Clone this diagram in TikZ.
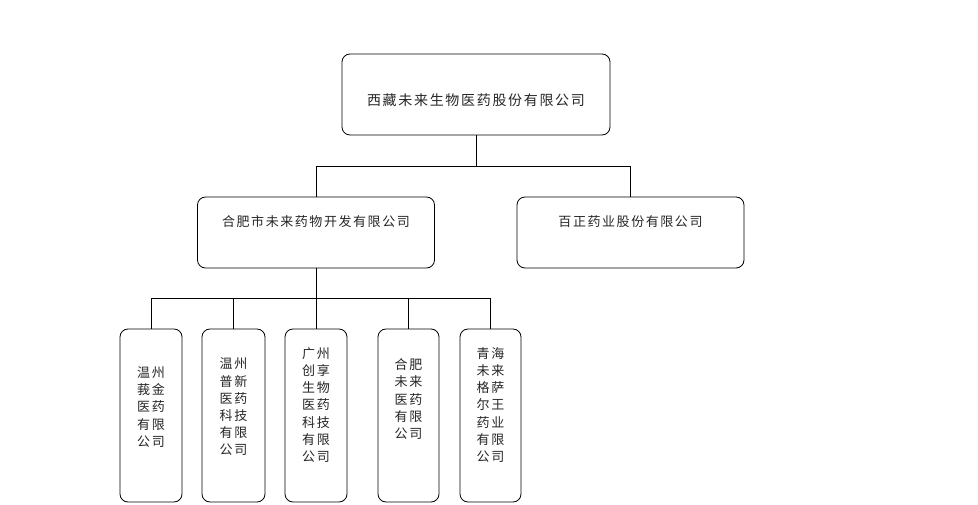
\documentclass[tikz,border=0pt]{standalone}
\usepackage{fontspec}
\setmainfont{Noto Sans CJK SC}
\newfontfamily\cjk[LetterSpace=12]{Noto Sans CJK SC}
\newfontfamily\cjkv[LetterSpace=14]{Noto Sans CJK SC}
\begin{document}
\begin{tikzpicture}[x=1pt,y=-1pt,
  box/.style={draw=black,line width=0.8pt,rounded corners=8pt,inner sep=0pt,fill=white},
  lbl/.style={inner sep=0pt,text=black!85},
  toptext/.style={lbl,font=\cjk\fontsize{14}{16}\selectfont},
  midtext/.style={lbl,font=\cjk\fontsize{13}{15}\selectfont},
  vtext/.style={lbl,align=center,font=\cjkv\fontsize{13}{17.2}\selectfont},
  conn/.style={draw=black,line width=0.8pt}]
\useasboundingbox (0,0) rectangle (978,505);
% boxes
\node[box,minimum width=268pt,minimum height=81pt] (top) at (476,94.5) {};
\node[box,minimum width=237pt,minimum height=71pt] (m1) at (316,232.5) {};
\node[box,minimum width=227pt,minimum height=71pt] (m2) at (630.5,232.5) {};
\node[box,minimum width=62pt,minimum height=173pt] (b1) at (151,415.5) {};
\node[box,minimum width=63pt,minimum height=173pt] (b2) at (233.5,415.5) {};
\node[box,minimum width=62pt,minimum height=173pt] (b3) at (316,415.5) {};
\node[box,minimum width=61pt,minimum height=173pt] (b4) at (408.5,415.5) {};
\node[box,minimum width=61pt,minimum height=173pt] (b5) at (490.5,415.5) {};
% texts
\node[toptext] (ttop) at (476,100) {西藏未来生物医药股份有限公司};
\node[midtext] (tm1) at (316,222) {合肥市未来药物开发有限公司};
\node[midtext] (tm2) at (630.5,222) {百正药业股份有限公司};
\node[vtext] (tb1) at (151,407) {温州\\莪金\\医药\\有限\\公司};
\node[vtext] (tb2) at (233.5,407) {温州\\普新\\医药\\科技\\有限\\公司};
\node[vtext] (tb3) at (316,405) {广州\\创享\\生物\\医药\\科技\\有限\\公司};
\node[vtext] (tb4) at (408.5,399) {合肥\\未来\\医药\\有限\\公司};
\node[vtext] (tb5) at (490.5,405) {青海\\未来\\格萨\\尔王\\药业\\有限\\公司};
% connectors
\coordinate (bus1) at (476,166);
\coordinate (bus2) at (316,298);
\draw[conn] (top.south) -- (bus1);
\draw[conn] (m1.north) -- (m1.north |- bus1) -- (m2.north |- bus1) -- (m2.north);
\draw[conn] (m1.south) -- (m1.south |- bus2);
\draw[conn] (b1.north) -- (b1.north |- bus2) -- (b5.north |- bus2) -- (b5.north);
\draw[conn] (b2.north) -- (b2.north |- bus2);
\draw[conn] (b3.north) -- (b3.north |- bus2);
\draw[conn] (b4.north) -- (b4.north |- bus2);
\end{tikzpicture}
\end{document}
